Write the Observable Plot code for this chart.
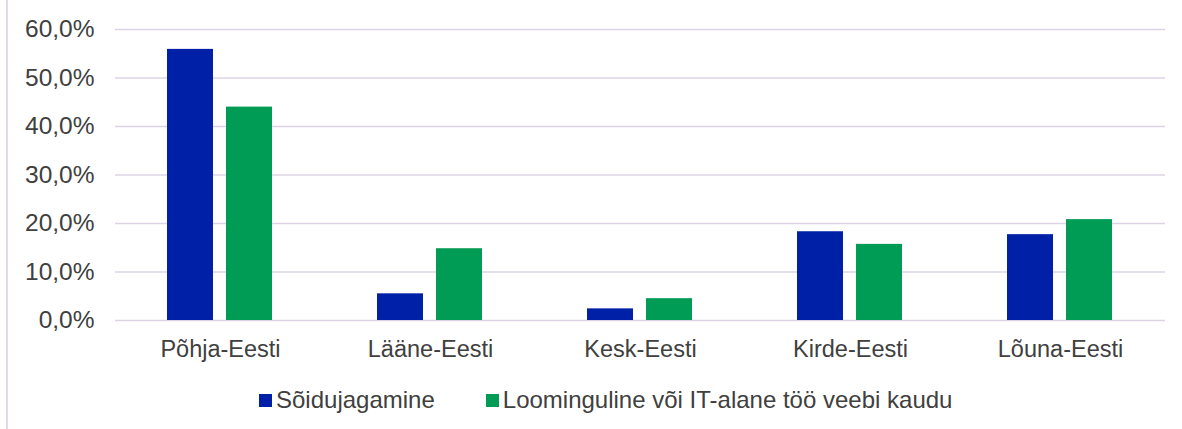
<!DOCTYPE html>
<html><head><meta charset="utf-8">
<script src="https://cdn.jsdelivr.net/npm/d3@7"></script>
<script src="https://cdn.jsdelivr.net/npm/@observablehq/plot@0.6"></script>
<style>
body{margin:0;background:#fff;}
#wrap{position:relative;width:1182px;height:429px;overflow:hidden;font-family:"Liberation Sans",Arial,sans-serif;}
#frame{position:absolute;left:6px;top:0;width:1.5px;height:429px;background:#e2d9ea;}
#chart{position:absolute;left:0;top:0;}
#legend{position:absolute;left:259px;top:387px;display:flex;align-items:center;font-size:24px;color:#404040;line-height:26px;white-space:nowrap}
.item{display:flex;align-items:center}
.sw{width:13px;height:13px;display:inline-block;margin-right:4px}
</style></head>
<body><div id="wrap"><div id="frame"></div><div id="chart"></div><div id="legend"></div></div>
<script>
const regions = ["Põhja-Eesti","Lääne-Eesti","Kesk-Eesti","Kirde-Eesti","Lõuna-Eesti"];
const seriesNames = ["Sõidujagamine","Loominguline või IT-alane töö veebi kaudu"];
const soidujagamine = [55.9, 5.5, 2.4, 18.3, 17.7];
const loominguline = [44.0, 14.8, 4.5, 15.7, 20.8];
const yTicks = [0, 10, 20, 30, 40, 50, 60];
const colors = ["#0020A8", "#009B55"];

const seriesValues = [soidujagamine, loominguline];
const data = [];
regions.forEach((r, i) => {
  seriesNames.forEach((s, j) => data.push({region: r, series: s, value: seriesValues[j][i]}));
});
const fmt = d => d.toFixed(1).replace(".", ",") + "%";

const chart = Plot.plot({
  width: 1182, height: 372,
  marginLeft: 113, marginRight: 15, marginTop: 29, marginBottom: 52,
  style: {fontFamily: "'Liberation Sans', Arial, sans-serif", color: "#404040", background: "transparent"},
  fx: {domain: regions, padding: 0, label: null},
  x: {domain: seriesNames, paddingInner: 0.217, paddingOuter: 0.867, axis: null},
  y: {domain: [0, 60], label: null},
  color: {domain: seriesNames, range: colors},
  marks: [
    Plot.gridY(yTicks, {stroke: "#DCD3E6", strokeOpacity: 1, strokeWidth: 1.5}),
    Plot.barY(data, {fx: "region", x: "series", y: "value", fill: "series"}),
    Plot.axisY(yTicks, {tickSize: 0, tickPadding: 21, tickFormat: fmt, fontSize: 24.5, label: null, fill: "#404040"}),
    Plot.axisFx({anchor: "bottom", tickSize: 0, tickPadding: 20, fontSize: 23.5, label: null, fill: "#404040"})
  ]
});
document.getElementById("chart").appendChild(chart);

const legend = document.getElementById("legend");
seriesNames.forEach((s, i) => {
  const it = document.createElement("div");
  it.className = "item";
  if (i > 0) it.style.marginLeft = "51px";
  const sw = document.createElement("span");
  sw.className = "sw";
  sw.style.background = colors[i];
  const t = document.createElement("span");
  t.textContent = s;
  it.appendChild(sw); it.appendChild(t);
  legend.appendChild(it);
});
</script>
</body></html>
